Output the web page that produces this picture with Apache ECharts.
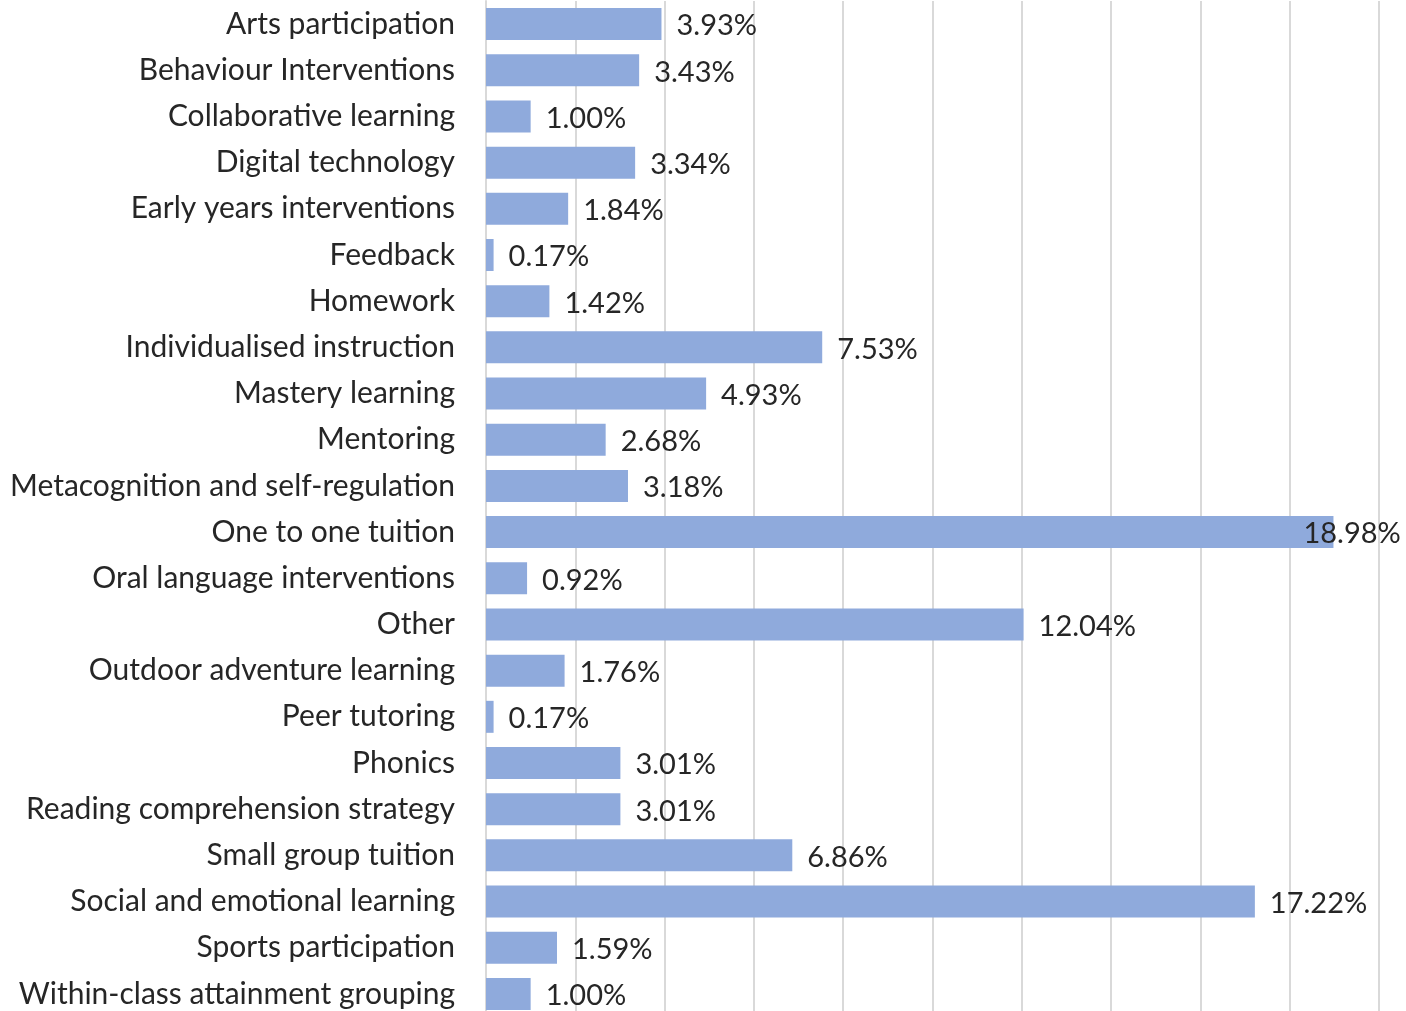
<!DOCTYPE html>
<html>
<head>
<meta charset="utf-8">
<script src="https://cdn.jsdelivr.net/npm/echarts@6/dist/echarts.min.js"></script>
<style>
html,body{margin:0;padding:0;background:#fff;overflow:hidden;}
#chart{width:1406px;height:1017px;}
</style>
</head>
<body>
<div id="chart"></div>
<script>
const categories = [
  "Arts participation",
  "Behaviour Interventions",
  "Collaborative learning",
  "Digital technology",
  "Early years interventions",
  "Feedback",
  "Homework",
  "Individualised instruction",
  "Mastery learning",
  "Mentoring",
  "Metacognition and self-regulation",
  "One to one tuition",
  "Oral language interventions",
  "Other",
  "Outdoor adventure learning",
  "Peer tutoring",
  "Phonics",
  "Reading comprehension strategy",
  "Small group tuition",
  "Social and emotional learning",
  "Sports participation",
  "Within-class attainment grouping"
];
const values = [3.93, 3.43, 1.00, 3.34, 1.84, 0.17, 1.42, 7.53, 4.93, 2.68, 3.18, 18.98, 0.92, 12.04, 1.76, 0.17, 3.01, 3.01, 6.86, 17.22, 1.59, 1.00];
const axisMin = 0, axisMax = 20, axisStep = 2;

const FONT = 'Lato';
const maxVal = Math.max(...values);
const seriesData = values.map(v => v === maxVal ? {value: v, label: {offset: [-45, 2]}} : v);

const chart = echarts.init(document.getElementById('chart'), null, {renderer: 'canvas'});
chart.setOption({
  animation: false,
  backgroundColor: '#ffffff',
  grid: {left: 486, right: 27, top: 1, bottom: 0, containLabel: false},
  xAxis: {
    type: 'value', min: axisMin, max: axisMax, interval: axisStep,
    axisLabel: {show: false}, axisTick: {show: false}, axisLine: {show: false},
    splitLine: {show: true, lineStyle: {color: '#d9d9d9', width: 2}}
  },
  yAxis: {
    type: 'category', data: categories, inverse: true,
    axisTick: {show: false},
    axisLine: {show: true, lineStyle: {color: '#d9d9d9', width: 2}},
    axisLabel: {color: '#262626', fontFamily: FONT, fontSize: 30, margin: 31}
  },
  series: [{
    type: 'bar', data: seriesData, barWidth: 32,
    itemStyle: {color: '#8faadc'},
    label: {show: true, position: 'right', distance: 15, offset: [0, 2], color: '#262626', fontFamily: FONT, fontSize: 29,
      formatter: p => p.value.toFixed(2) + '%'}
  }]
});
</script>
</body>
</html>
